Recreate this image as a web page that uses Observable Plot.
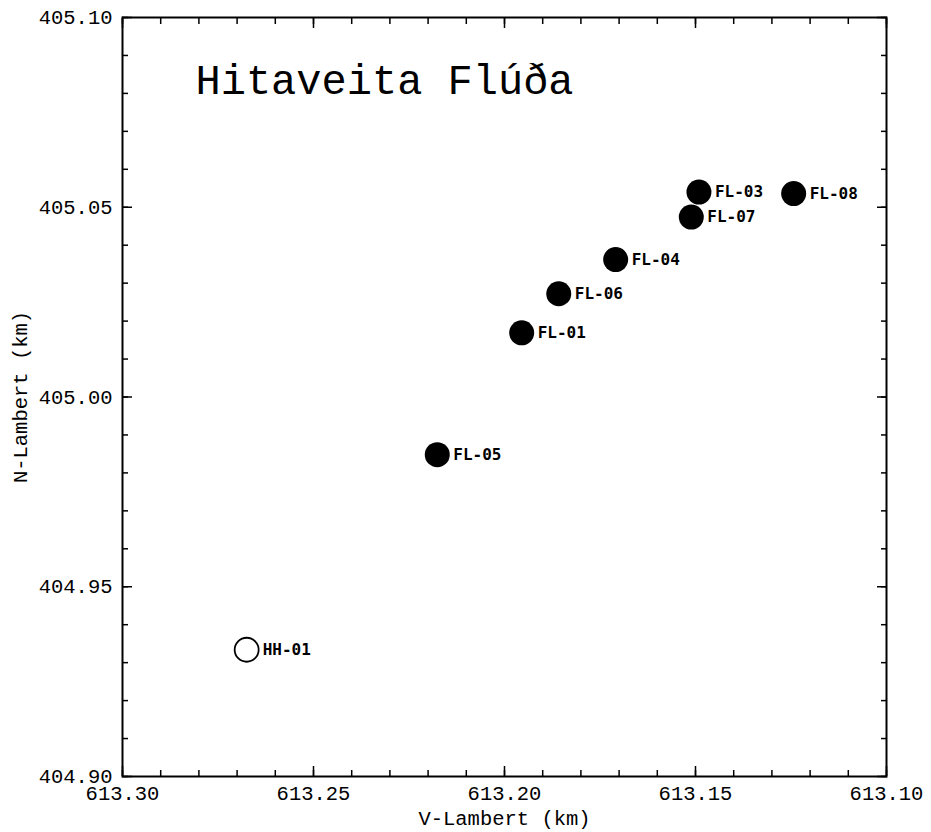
<!DOCTYPE html>
<html>
<head>
<meta charset="utf-8">
<script src="https://cdn.jsdelivr.net/npm/d3@7"></script>
<script src="https://cdn.jsdelivr.net/npm/@observablehq/plot@0.6"></script>
<style>
  html, body { margin: 0; padding: 0; background: #fff; }
  #chart svg { display: block; }
</style>
</head>
<body>
<div id="chart"></div>
<script>
// Wells (Lambert coordinates, km)
const wells    = ["FL-08", "FL-03", "FL-07", "FL-04", "FL-06", "FL-01", "FL-05", "HH-01"];
const vLambert = [613.1243, 613.1491, 613.1511, 613.1709, 613.1858, 613.1955, 613.2176, 613.2675];
const nLambert = [405.0536, 405.0540, 405.0474, 405.0362, 405.0272, 405.0169, 404.9848, 404.9334];
const wellType = ["FL", "FL", "FL", "FL", "FL", "FL", "FL", "HH"];

const xMajor = [613.30, 613.25, 613.20, 613.15, 613.10];
const yMajor = [404.90, 404.95, 405.00, 405.05, 405.10];
const xMinor = d3.range(0, 21).map(i => +(613.10 + i * 0.01).toFixed(2));
const yMinor = d3.range(0, 21).map(i => +(404.90 + i * 0.01).toFixed(2));

const title = "Hitaveita Flúða";
const xLabel = "V-Lambert (km)";
const yLabel = "N-Lambert (km)";

const data = wells.map((w, i) => ({ name: w, x: vLambert[i], y: nLambert[i], type: wellType[i] }));
const fl = data.filter(d => d.type === "FL");
const hh = data.filter(d => d.type === "HH");

const mono = "'Liberation Mono', 'DejaVu Sans Mono', monospace";
const fmt = d3.format(".2f");

const chart = Plot.plot({
  width: 931,
  height: 832,
  marginLeft: 122,
  marginRight: 45,
  marginTop: 17,
  marginBottom: 56,
  style: { fontFamily: mono, fontSize: "21px", color: "#000", background: "#fff" },
  x: { domain: [613.30, 613.10], label: null },
  y: { domain: [404.90, 405.10], label: null },
  marks: [
    // minor ticks, inward
    Plot.axisX(xMinor, { anchor: "bottom", tickSize: -6, text: null, strokeWidth: 1.5 }),
    Plot.axisX(xMinor, { anchor: "top", tickSize: -6, text: null, strokeWidth: 1.5 }),
    Plot.axisY(yMinor, { anchor: "left", tickSize: -6, text: null, strokeWidth: 1.5 }),
    Plot.axisY(yMinor, { anchor: "right", tickSize: -6, text: null, strokeWidth: 1.5 }),
    // major ticks, inward
    Plot.axisX(xMajor, { anchor: "bottom", tickSize: -10, text: null, strokeWidth: 1.5 }),
    Plot.axisX(xMajor, { anchor: "top", tickSize: -10, text: null, strokeWidth: 1.5 }),
    Plot.axisY(yMajor, { anchor: "left", tickSize: -10, text: null, strokeWidth: 1.5 }),
    Plot.axisY(yMajor, { anchor: "right", tickSize: -10, text: null, strokeWidth: 1.5 }),
    // tick labels
    Plot.axisX(xMajor, { anchor: "bottom", tickSize: 0, tickPadding: 9, tickFormat: fmt,
      label: xLabel, labelAnchor: "center", labelArrow: "none", labelOffset: 48, fontSize: 20.5 }),
    Plot.axisY(yMajor, { anchor: "left", tickSize: 0, tickPadding: 10, tickFormat: fmt,
      label: yLabel, labelAnchor: "center", labelArrow: "none", labelOffset: 110, fontSize: 20.5 }),
    Plot.frame({ stroke: "#000", strokeWidth: 2 }),
    // title
    Plot.text([title], { frameAnchor: "top-left", dx: 73, dy: 47, text: d => d,
      fontSize: 42, fontFamily: mono, textAnchor: "start", lineAnchor: "top", fill: "#000" }),
    // wells
    Plot.dot(fl, { x: "x", y: "y", r: 12.5, fill: "#000", stroke: "none" }),
    Plot.dot(hh, { x: "x", y: "y", r: 12, fill: "#fff", stroke: "#000", strokeWidth: 1.8 }),
    Plot.text(data, { x: "x", y: "y", text: "name", dx: 16, textAnchor: "start",
      fontSize: 16, fontFamily: "'DejaVu Sans Mono', monospace", fontWeight: "bold", fill: "#000" })
  ]
});

document.getElementById("chart").appendChild(chart);
</script>
</body>
</html>
